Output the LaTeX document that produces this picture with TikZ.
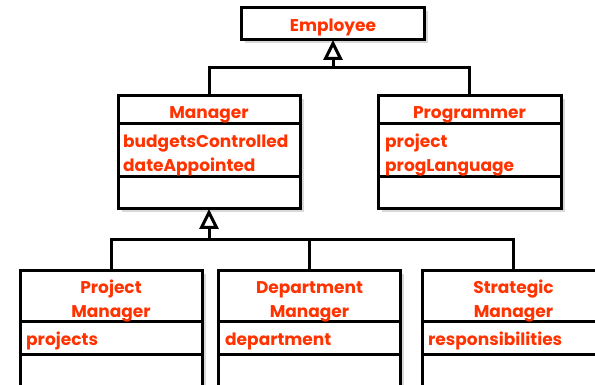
\documentclass[tikz,border=0pt]{standalone}
\usepackage{fontspec}
\setmainfont{Poppins}
\usetikzlibrary{arrows.meta,shadows}
\definecolor{txt}{HTML}{FF3300}
\begin{document}
\begin{tikzpicture}[x=1pt,y=-1pt,
  cls/.style={draw=black, line width=3pt, fill=white, rectangle, inner sep=0pt, outer sep=0pt,
    drop shadow={shadow xshift=3.5pt, shadow yshift=-3.5pt, opacity=0.15, fill=black}},
  div/.style={line width=3pt, draw=black},
  lbl/.style={text=txt, font=\fontsize{17}{24}\selectfont\bfseries, inner sep=0pt, anchor=base},
  attr/.style={lbl, anchor=base west},
  link/.style={line width=3pt, draw=black},
  inh/.style={link, -{Triangle[open, width=19pt, length=20pt, fill=white]}}
]
\path[use as bounding box] (0,0) rectangle (595,385);
\begin{scope}
\clip (0,0) rectangle (595,385);
% boxes
\node[cls, minimum width=183pt, minimum height=32pt] (emp) at (333,24) {};
\node[cls, minimum width=182pt, minimum height=113.5pt] (mgr) at (209,152.25) {};
\node[cls, minimum width=183pt, minimum height=113.5pt] (prog) at (469.5,152.25) {};
\node[cls, minimum width=182pt, minimum height=130pt] (pm) at (111,335) {};
\node[cls, minimum width=182pt, minimum height=130pt] (dm) at (309.5,335) {};
\node[cls, minimum width=182pt, minimum height=130pt] (sm) at (513.5,335) {};
% dividers
\draw[div] (mgr.west |- 0,124) -- (mgr.east |- 0,124);
\draw[div] (mgr.west |- 0,176.5) -- (mgr.east |- 0,176.5);
\draw[div] (prog.west |- 0,124) -- (prog.east |- 0,124);
\draw[div] (prog.west |- 0,176.5) -- (prog.east |- 0,176.5);
\foreach \b in {pm,dm,sm}{
  \draw[div] (\b.west |- 0,321) -- (\b.east |- 0,321);
  \draw[div] (\b.west |- 0,354) -- (\b.east |- 0,354);
}
% texts
\node[lbl] (empT) at (333,31.5) {Employee};
\node[lbl] (mgrT) at (209,119) {Manager};
\node[lbl] (progT) at (469.5,119) {Programmer};
\node[attr] (mgrA1) at (123,148) {budgetsControlled};
\node[attr] (mgrA2) at (123,171.5) {dateAppointed};
\node[attr] (progA1) at (385,148) {project};
\node[attr] (progA2) at (385,171.5) {progLanguage};
\node[lbl, align=center] (pmT) at (111,317) {Project\\Manager};
\node[lbl, align=center] (dmT) at (309.5,317) {Department\\Manager};
\node[lbl, align=center] (smT) at (513.5,317) {Strategic\\Manager};
\node[attr] (pmA) at (26,345) {projects};
\node[attr] (dmA) at (225,345) {department};
\node[attr] (smA) at (428,345) {responsibilities};
% inheritance connectors
\coordinate (j1) at (333,68);
\coordinate (j2) at (209,239.5);
\draw[link] (mgr.north) |- (j1);
\draw[link] (prog.north) |- (j1);
\draw[inh] (j1) -- (emp.south);
\draw[link] (pm.north) |- (j2);
\draw[link] (dm.north) |- (j2);
\draw[link] (sm.north) |- (j2);
\draw[inh] (j2) -- (mgr.south);
\end{scope}
\end{tikzpicture}
\end{document}
